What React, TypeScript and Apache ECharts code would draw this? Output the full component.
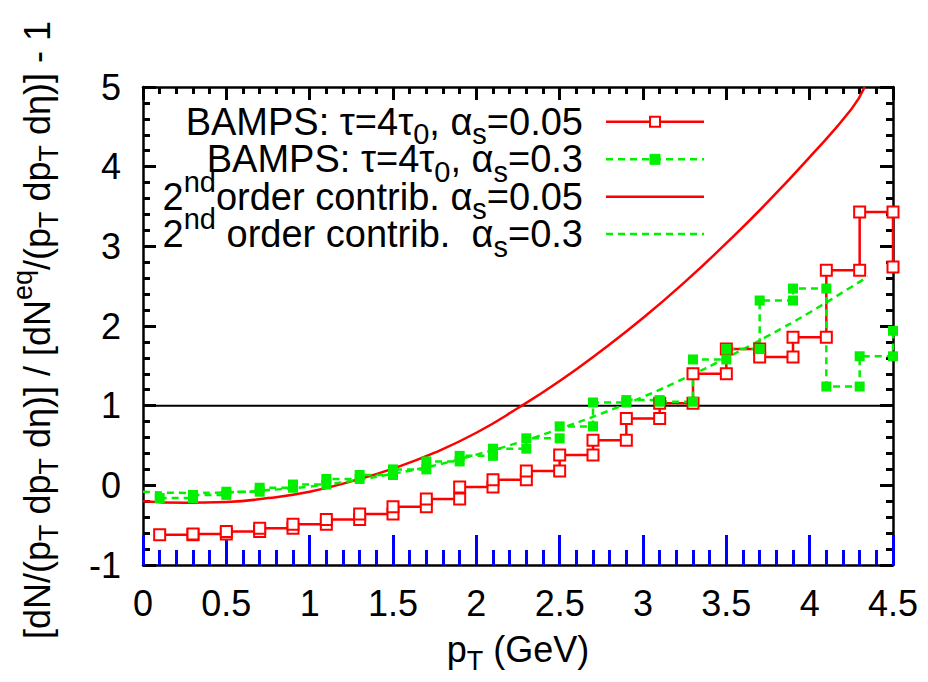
import React, { useEffect, useRef } from "react";
import * as echarts from "echarts";

// ---------- data ----------
const binLeft = [0.1, 0.3, 0.5, 0.7, 0.9, 1.1, 1.3, 1.5, 1.7, 1.9, 2.1, 2.3, 2.5, 2.7, 2.9, 3.1, 3.3, 3.5, 3.7, 3.9, 4.1, 4.3, 4.5];
const binWidth = 0.2;
const bampsA005 = [-0.62, -0.61, -0.58, -0.54, -0.49, -0.43, -0.36, -0.27, -0.17, -0.02, 0.07, 0.18, 0.38, 0.565, 0.84, 1.03, 1.4, 1.71, 1.61, 1.86, 2.7, 3.43, 2.74];
const bampsA03 = [-0.16, -0.12, -0.08, -0.03, 0.01, 0.08, 0.13, 0.2, 0.3, 0.37, 0.46, 0.59, 0.74, 1.04, 1.07, 1.05, 1.58, 1.71, 2.32, 2.47, 1.24, 1.62, 1.94];

const curveRedX = [0, 0.25, 0.5, 0.75, 1.0, 1.25, 1.5, 1.75, 2.0, 2.25, 2.5, 2.75, 3.0, 3.25, 3.5, 3.75, 4.0, 4.25, 4.33];
const curveRedY = [-0.2, -0.22, -0.21, -0.16, -0.08, 0.05, 0.21, 0.41, 0.66, 0.97, 1.31, 1.69, 2.1, 2.55, 3.04, 3.56, 4.12, 4.72, 5.0];
const curveGreenX = [0, 0.25, 0.5, 0.75, 1.0, 1.25, 1.5, 1.75, 2.0, 2.25, 2.5, 2.75, 3.0, 3.25, 3.5, 3.75, 4.0, 4.25, 4.35];
const curveGreenY = [-0.08, -0.095, -0.09, -0.06, -0.015, 0.055, 0.145, 0.25, 0.385, 0.535, 0.71, 0.9, 1.11, 1.345, 1.6, 1.875, 2.17, 2.49, 2.62];

const refLineX = [0, 4.5];
const refLineY = [1, 1];

const xMin = 0, xMax = 4.5, xStep = 0.5;
const yMin = -1, yMax = 5, yStep = 1;
const minorSplit = 5;

// ---------- styles ----------
const RED = "#ff0000";
const GREEN = "#00f000";
const FONT = '"Liberation Sans", Arial, Helvetica, sans-serif';
const FS = 36;
const LEG_FS = 38;

const GRID = { left: 143, right: 35, top: 87, bottom: 117 };

function stepPoints(lefts: number[], vals: number[]) {
  const pts: number[][] = [];
  lefts.forEach((x, i) => {
    const x2 = Math.round((x + binWidth) * 100) / 100;
    pts.push([x, vals[i]]);
    if (x2 <= xMax + 1e-9) pts.push([x2, vals[i]]);
  });
  return pts;
}
function zipXY(xs: number[], ys: number[]) {
  return xs.map((x, i) => [x, ys[i]]);
}

// ---------- rich text via measured runs ----------
type Run = [string, number?]; // 0 normal, 1 sub, 2 sup
let measureCtx: CanvasRenderingContext2D | null = null;
function measure(t: string, size: number) {
  if (!measureCtx) measureCtx = document.createElement("canvas").getContext("2d");
  measureCtx!.font = `${size}px ${FONT}`;
  return measureCtx!.measureText(t).width;
}
function runSize(k: number | undefined, fs: number) {
  return k ? Math.round(fs * 0.75) : fs;
}
function runsWidth(runs: Run[], fs: number) {
  return runs.reduce((w, r) => w + measure(r[0], runSize(r[1], fs)), 0);
}
function runsEls(runs: Run[], startX: number, cy: number, fsBase: number) {
  const els: any[] = [];
  let x = startX;
  runs.forEach((r) => {
    const k = r[1] || 0;
    const fs = runSize(k, fsBase);
    const dy = k === 1 ? fsBase * 0.33 : k === 2 ? -fsBase * 0.4 : 0;
    els.push({
      type: "text",
      x,
      y: cy + dy,
      z: 100,
      style: {
        text: r[0],
        fontSize: fs,
        fontFamily: FONT,
        lineHeight: Math.round(fs * 0.8),
        fill: "#000",
        align: "left",
        textAlign: "left",
        verticalAlign: "middle",
        textVerticalAlign: "middle",
      },
    });
    x += measure(r[0], fs);
  });
  return els;
}

const legendRows: { runs: Run[]; y: number; color: string; dash: boolean; marker: "open" | "filled" | null }[] = [
  { runs: [["BAMPS: τ=4τ"], ["0", 1], [", α"], ["s", 1], ["=0.05"]], y: 121.7, color: RED, dash: false, marker: "open" },
  { runs: [["BAMPS: τ=4τ"], ["0", 1], [", α"], ["s", 1], ["=0.3"]], y: 159.3, color: GREEN, dash: true, marker: "filled" },
  { runs: [["2"], ["nd", 2], ["order contrib. α"], ["s", 1], ["=0.05"]], y: 196.7, color: RED, dash: false, marker: null },
  { runs: [["2"], ["nd", 2], [" order contrib.  α"], ["s", 1], ["=0.3"]], y: 234, color: GREEN, dash: true, marker: null },
];

const yTitleRuns: Run[] = [
  ["[dN/(p"], ["T", 1], [" dp"], ["T", 1], [" dη)] / [dN"], ["eq", 2], ["/(p"], ["T", 1], [" dp"], ["T", 1], [" dη)] - 1"],
];
const xTitleRuns: Run[] = [["p"], ["T", 1], [" (GeV)"]];

function buildGraphics() {
  const els: any[] = [];
  const textRight = 583;
  const sampleX1 = 606, sampleX2 = 704;
  legendRows.forEach((row) => {
    const w = runsWidth(row.runs, LEG_FS);
    els.push(...runsEls(row.runs, textRight - w, row.y, LEG_FS));
    els.push({
      type: "line",
      z: 100,
      shape: { x1: sampleX1, y1: row.y, x2: sampleX2, y2: row.y },
      style: { stroke: row.color, lineWidth: 2.5, lineDash: row.dash ? [7, 5] : null },
    });
    if (row.marker) {
      const s = 10;
      const cx = (sampleX1 + sampleX2) / 2;
      els.push({
        type: "rect",
        z: 101,
        shape: { x: cx - s / 2, y: row.y - s / 2, width: s, height: s },
        style:
          row.marker === "open"
            ? { fill: "#fff", stroke: row.color, lineWidth: 2 }
            : { fill: row.color, stroke: row.color, lineWidth: 1 },
      });
    }
  });
  const wy = runsWidth(yTitleRuns, FS);
  els.push({
    type: "group",
    x: 37,
    y: 330,
    rotation: Math.PI / 2,
    children: runsEls(yTitleRuns, -wy / 2, 0, FS),
  });
  const wx = runsWidth(xTitleRuns, FS);
  els.push(...runsEls(xTitleRuns, 518 - wx / 2, 649, FS));
  return els;
}

function ax(isX: boolean, label: boolean, tickColor: string, majorLen: number, minorLen: number) {
  return {
    type: "value" as const,
    min: isX ? xMin : yMin,
    max: isX ? xMax : yMax,
    interval: isX ? xStep : yStep,
    axisLine: { show: true, onZero: false, lineStyle: { color: "#000", width: 2.5 } },
    axisTick: { show: true, inside: true, length: majorLen, lineStyle: { color: tickColor, width: 3 } },
    minorTick: { show: true, splitNumber: minorSplit, length: minorLen, lineStyle: { color: tickColor, width: 3 } },
    splitLine: { show: false },
    axisLabel: {
      show: label,
      color: "#000",
      fontSize: FS,
      fontFamily: FONT,
      margin: isX ? 20 : 22,
    },
  };
}

export default function App() {
  const ref = useRef<HTMLDivElement>(null);
  useEffect(() => {
    const chart = echarts.init(ref.current!, null, { renderer: "svg" });
    const option: any = {
      animation: false,
      grid: GRID,
      xAxis: [
        { ...ax(true, true, "#0000ff", 30, 15), position: "bottom" },
        { ...ax(true, false, "#000", 13, 7), position: "top" },
      ],
      yAxis: [
        { ...ax(false, true, "#000", 13, 7), position: "left" },
        { ...ax(false, false, "#000", 13, 7), position: "right" },
      ],
      series: [
        {
          name: "ref",
          type: "line",
          data: zipXY(refLineX, refLineY),
          symbol: "none",
          clip: false,
          lineStyle: { color: "#000", width: 2 },
          silent: true,
        },
        {
          name: "2nd order a=0.05",
          type: "line",
          data: zipXY(curveRedX, curveRedY),
          smooth: true,
          symbol: "none",
          clip: false,
          lineStyle: { color: RED, width: 2.5 },
        },
        {
          name: "2nd order a=0.3",
          type: "line",
          data: zipXY(curveGreenX, curveGreenY),
          smooth: true,
          symbol: "none",
          clip: false,
          lineStyle: { color: GREEN, width: 2.5, type: [7, 5] },
        },
        {
          name: "BAMPS a=0.05",
          type: "line",
          data: stepPoints(binLeft, bampsA005),
          symbol: "emptyRect",
          symbolSize: 11,
          clip: false,
          lineStyle: { color: RED, width: 2.5 },
          itemStyle: { color: RED, borderColor: RED, borderWidth: 2 },
        },
        {
          name: "BAMPS a=0.3",
          type: "line",
          data: stepPoints(binLeft, bampsA03),
          symbol: "rect",
          symbolSize: 10,
          clip: false,
          lineStyle: { color: GREEN, width: 2.5, type: [7, 5] },
          itemStyle: { color: GREEN },
        },
      ],
      graphic: { elements: buildGraphics() },
    };
    chart.setOption(option);
    return () => chart.dispose();
  }, []);
  return (
    <div
      ref={ref}
      style={{ position: "fixed", left: 0, top: 0, width: 928, height: 682, background: "#fff" }}
    />
  );
}
